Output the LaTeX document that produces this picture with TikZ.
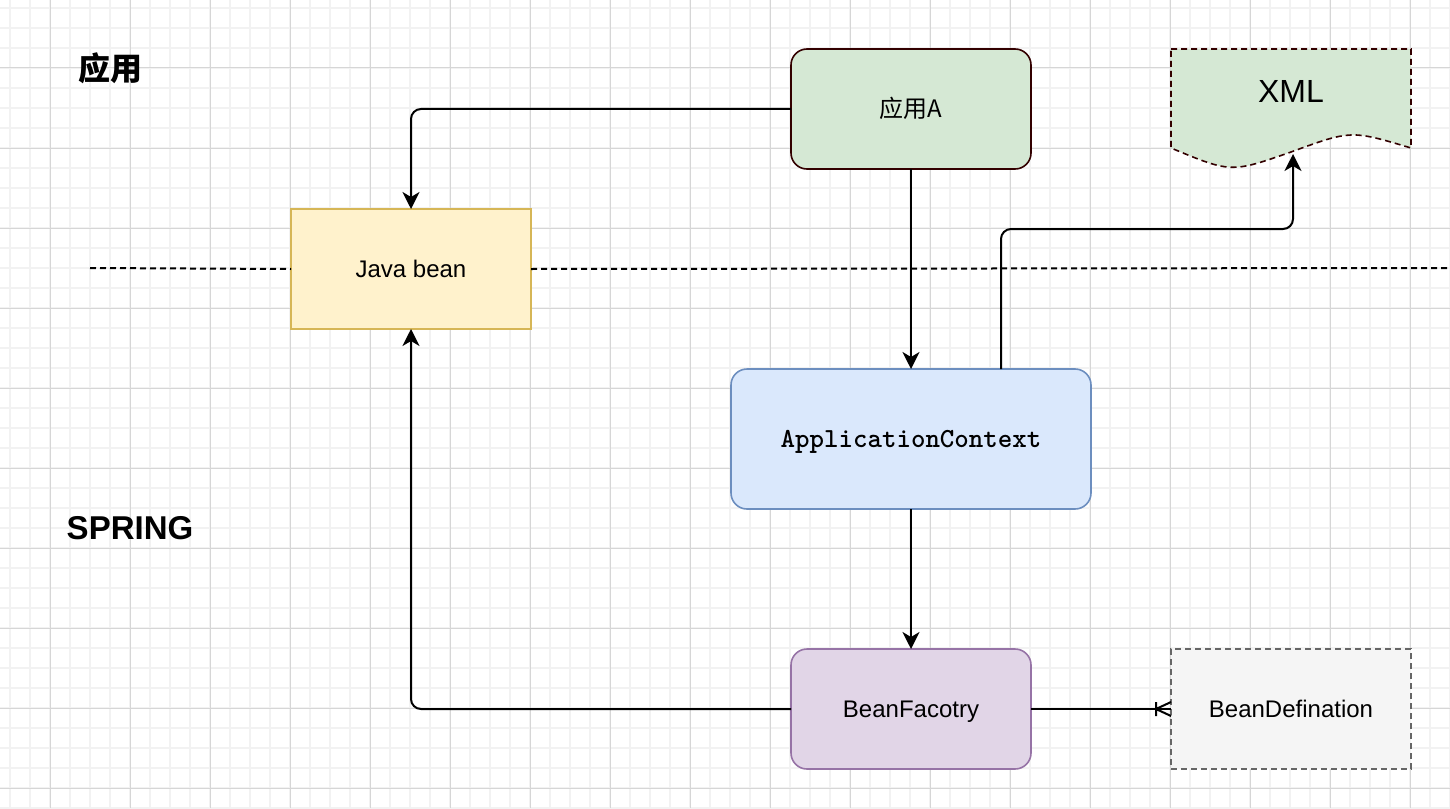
\documentclass[tikz,border=0pt]{standalone}
\usepackage{fontspec}
\setmainfont{Liberation Sans}
\newfontfamily\cjk{Noto Sans CJK SC}
\usetikzlibrary{positioning,arrows.meta,calc}
\definecolor{gridminor}{HTML}{F2F2F2}
\definecolor{gridmajor}{HTML}{D6D6D6}
\definecolor{darkedge}{HTML}{330000}
\definecolor{greenfill}{HTML}{D5E8D4}
\definecolor{yellowfill}{HTML}{FFF2CC}
\definecolor{yellowedge}{HTML}{D6B656}
\definecolor{bluefill}{HTML}{DAE8FC}
\definecolor{blueedge}{HTML}{6C8EBF}
\definecolor{purplefill}{HTML}{E1D5E7}
\definecolor{purpleedge}{HTML}{9673A6}
\definecolor{grayfill}{HTML}{F5F5F5}
\definecolor{grayedge}{HTML}{666666}
\tikzset{
	every node/.style = {font=\fontsize{12}{14}\selectfont, inner sep = 3, outer sep = 0},
	box/.style = {draw, line width=0.8pt, minimum width=120pt, minimum height=60pt, text height=8.6pt, text depth=0pt},
	roundbox/.style = {box, rounded corners=8pt},
	edge/.style = {draw, line width=1pt, rounded corners=5pt},
	dashline/.style = {dash pattern=on 3pt off 2pt},
	>={Stealth[length=8.5pt,width=8.5pt,inset=2.5pt]}
}
\begin{document}
\begin{tikzpicture}[x=0.5pt, y=-0.5pt]
		\useasboundingbox (0,0) rectangle (1450,808);
		% grid
		\foreach \x in {10,30,...,1450} \draw[gridminor, line width=1pt] (\x,0) -- (\x,808);
		\foreach \y in {8,28,...,808} \draw[gridminor, line width=1pt] (0,\y) -- (1450,\y);
		\foreach \x in {50,130,...,1450} \draw[gridmajor, line width=0.5pt] (\x,0) -- (\x,808);
		\foreach \y in {68,148,...,808} \draw[gridmajor, line width=0.5pt] (0,\y) -- (1450,\y);
		
		\node[font=\cjk\bfseries\fontsize{16}{18}\selectfont] (applabel) at (110,68) {应用};
		\node[font=\bfseries\fontsize{16.5}{18}\selectfont] (springlabel) at (130,528) {SPRING};
		
		\node[roundbox, draw=darkedge, fill=greenfill] (appa) at (911,109) {\cjk 应用A};
		\node[box, draw=yellowedge, fill=yellowfill] (javabean) at (411,269) {Java bean};
		\node[roundbox, draw=blueedge, fill=bluefill, minimum width=180pt, minimum height=70pt, below = 100pt of appa] (context) {\ttfamily\bfseries\fontsize{13.8}{16}\selectfont ApplicationContext};
		\node[roundbox, draw=purpleedge, fill=purplefill, below = 70pt of context] (factory) {BeanFacotry};
		\node[box, dashline, draw=grayedge, fill=grayfill, right = 70pt of factory] (definition) {BeanDefination};
		
		% XML document shape
		\draw[fill=greenfill, draw=darkedge, line width=0.8pt, dashline] (1171,49) -- (1411,49) -- (1411,148)
			.. controls (1351,130) .. (1291,152) .. controls (1231,173) .. (1171,148) -- cycle;
		\node[font=\fontsize{16}{18}\selectfont] (xml) at (1291,91) {XML};
		\coordinate (xmlbottom) at (1293,154);
		
		% layer line
		\coordinate (lineleft) at (90,268);
		\coordinate (lineright) at (1450,268);
		\draw[line width=1pt, dashline] (lineleft) -- (javabean.west);
		\draw[line width=1pt, dashline] (javabean.east) -- (lineright);
		
		\path[edge,->] (appa.west) -| (javabean.north);
		\path[edge,->] (appa.south) -- (context.north);
		\path[edge,->] ($(context.north)+(90,0)$) -- ++(0,-140) -| (xmlbottom);
		\path[edge,->] (context.south) -- (factory.north);
		\path[edge,->] (factory.west) -| (javabean.south);
		\path[edge] (factory.east) -- (definition.west);
		\draw[line width=1pt] ($(definition.west)+(-15,0)$) -- ($(definition.west)+(0,-7)$)
			($(definition.west)+(-15,0)$) -- ($(definition.west)+(0,7)$)
			($(definition.west)+(-15,-7)$) -- ($(definition.west)+(-15,7)$);
		\end{tikzpicture}
\end{document}
